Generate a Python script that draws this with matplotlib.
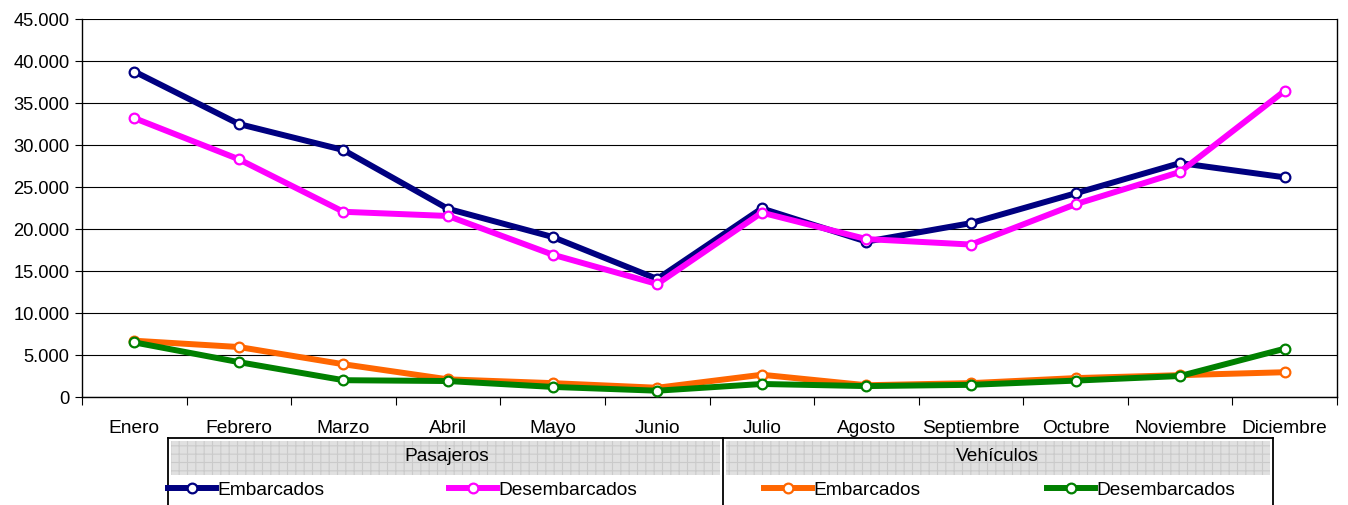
import numpy as np
import matplotlib
matplotlib.use("Agg")
import matplotlib.pyplot as plt
from matplotlib.patches import Rectangle
from matplotlib.lines import Line2D
from matplotlib.ticker import FuncFormatter, FixedLocator

plt.rcParams['font.family'] = ['Liberation Sans', 'DejaVu Sans']
plt.rcParams['hatch.linewidth'] = 0.8

meses = ["Enero", "Febrero", "Marzo", "Abril", "Mayo", "Junio", "Julio",
         "Agosto", "Septiembre", "Octubre", "Noviembre", "Diciembre"]

pas_embarcados = [38750, 32500, 29400, 22400, 19050, 14050, 22450, 18500,
                  20700, 24250, 27850, 26150]
pas_desembarcados = [33200, 28300, 22050, 21550, 16950, 13450, 21950, 18800,
                     18150, 22950, 26800, 36450]
veh_embarcados = [6700, 5950, 3900, 2100, 1650, 1100, 2650, 1400,
                  1650, 2250, 2600, 2950]
veh_desembarcados = [6500, 4150, 2000, 1900, 1200, 750, 1550, 1300,
                     1450, 1950, 2500, 5750]

series = [
    (pas_embarcados, "#000080"),
    (pas_desembarcados, "#ff00ff"),
    (veh_embarcados, "#ff6600"),
    (veh_desembarcados, "#008000"),
]

W, H = 1348, 506
fig = plt.figure(figsize=(W / 100, H / 100), dpi=100)
ax = fig.add_axes([82 / W, 1 - 398 / H, (1337 - 82) / W, (398 - 20) / H])

x = np.arange(len(meses)) + 0.5
for vals, col in series:
    ax.plot(x, vals, color=col, lw=4.3, marker="o", ms=7, mfc="white",
            mec=col, mew=1.6, solid_joinstyle="round", zorder=3)

ax.set_xlim(0, len(meses))
ax.set_ylim(0, 45000)
ax.set_yticks(np.arange(0, 45001, 5000))
ax.yaxis.set_major_formatter(FuncFormatter(lambda v, p: f"{int(v):,}".replace(",", ".")))
ax.grid(axis="y", color="black", lw=0.8)
ax.set_axisbelow(True)

ax.xaxis.set_major_locator(FixedLocator(np.arange(0, len(meses) + 1)))
ax.xaxis.set_minor_locator(FixedLocator(x))
ax.set_xticklabels([], minor=False)
ax.set_xticklabels(meses, minor=True)
ax.tick_params(axis="x", which="major", length=6, direction="out", color="black")
ax.tick_params(axis="x", which="minor", length=0, pad=16, labelsize=13.8)
ax.tick_params(axis="y", length=5, labelsize=13.2, pad=4)
ax.spines["top"].set_visible(False)
for s in ["left", "right", "bottom"]:
    ax.spines[s].set_color("black")
    ax.spines[s].set_linewidth(1.0)

# legend table under the chart
def fx(px):
    return px / W

def fy(py):
    return 1 - py / H

box_left, box_mid, box_right = 168, 723, 1273
top, head_bot = 439, 476
for x0, x1 in [(box_left, box_mid), (box_mid, box_right)]:
    fig.add_artist(Rectangle((fx(x0 + 3), fy(head_bot)), fx(x1 - x0 - 6), (head_bot - top - 3) / H,
                             transform=fig.transFigure, facecolor="#e0e0e0",
                             edgecolor="none", zorder=1))
    fig.add_artist(Rectangle((fx(x0 + 3), fy(head_bot)), fx(x1 - x0 - 6), (head_bot - top - 3) / H,
                             transform=fig.transFigure, facecolor="none",
                             edgecolor="#cacaca", hatch="++", lw=0, zorder=2))
frame = dict(color="black", lw=1.3, transform=fig.transFigure)
fig.add_artist(Line2D([fx(box_left), fx(box_right)], [fy(top), fy(top)], **frame))
for xv in (box_left, box_mid, box_right):
    fig.add_artist(Line2D([fx(xv), fx(xv)], [fy(top), 0], **frame))

fig.text(fx(447), fy(457), "Pasajeros", ha="center", va="center", fontsize=13.8, zorder=3)
fig.text(fx(997), fy(457), "Vehículos", ha="center", va="center", fontsize=13.8, zorder=3)

entries = [
    (168, "Embarcados", "#000080"),
    (449, "Desembarcados", "#ff00ff"),
    (764, "Embarcados", "#ff6600"),
    (1047, "Desembarcados", "#008000"),
]
for x0, label, col in entries:
    fig.add_artist(Line2D([fx(x0), fx(x0 + 48)], [fy(489), fy(489)], color=col,
                          lw=4.3, transform=fig.transFigure))
    fig.add_artist(Line2D([fx(x0 + 24)], [fy(489)], color=col, marker="o", ms=7,
                          mfc="white", mec=col, mew=1.6, transform=fig.transFigure))
    fig.text(fx(x0 + 49), fy(491), label, ha="left", va="center", fontsize=13.8)

fig.savefig("out.png", dpi=100)
